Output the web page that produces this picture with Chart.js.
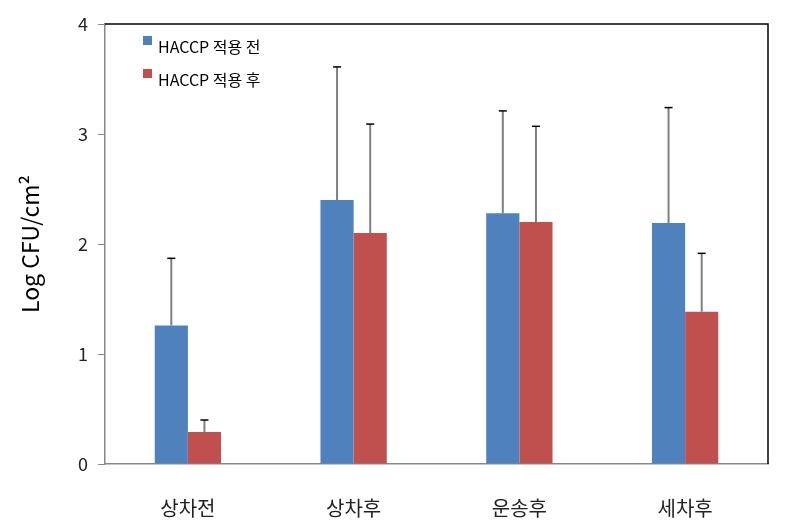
<!DOCTYPE html>
<html>
<head>
<meta charset="utf-8">
<script src="https://cdn.jsdelivr.net/npm/chart.js@4/dist/chart.umd.min.js"></script>
<style>
  html,body{margin:0;padding:0;background:#fff;}
  #wrap{width:804px;height:531px;position:relative;}
</style>
</head>
<body>
<div id="wrap"><canvas id="c" width="804" height="531"></canvas></div>
<script>
const categories=['상차전','상차후','운송후','세차후'];
const beforeVals=[1.26,2.40,2.28,2.19];
const afterVals=[0.29,2.10,2.20,1.385];
const beforeErr=[0.61,1.21,0.93,1.05];
const afterErr=[0.11,0.99,0.87,0.53];
const seriesNames=['HACCP 적용 전','HACCP 적용 후'];
const yTicks=[0,1,2,3,4];

const FONT='"Noto Sans CJK KR","Noto Sans",sans-serif';
const BLUE='#4F81BD', RED='#C0504D';

// upward-only error bars with a short black cap
const errorBars={
  id:'errorBars',
  afterDatasetsDraw(chart){
    const ctx=chart.ctx, y=chart.scales.y;
    const errs=[beforeErr,afterErr];
    chart.data.datasets.forEach((ds,i)=>{
      const meta=chart.getDatasetMeta(i);
      meta.data.forEach((bar,j)=>{
        const top=y.getPixelForValue(ds.data[j]+errs[i][j]);
        ctx.save();
        ctx.strokeStyle='#7f7f7f';ctx.lineWidth=2;
        ctx.beginPath();ctx.moveTo(bar.x,bar.y);ctx.lineTo(bar.x,top);ctx.stroke();
        ctx.strokeStyle='#000';ctx.lineWidth=1.5;
        ctx.beginPath();ctx.moveTo(bar.x-4,top);ctx.lineTo(bar.x+4,top);ctx.stroke();
        ctx.restore();
      });
    });
  }
};

// frame on top/right and the in-plot legend
const frameLegend={
  id:'frameLegend',
  afterDraw(chart){
    const {ctx,chartArea:a}=chart;
    ctx.save();
    ctx.strokeStyle='#000';ctx.lineWidth=1.5;
    ctx.beginPath();ctx.moveTo(a.left,a.top);ctx.lineTo(a.right,a.top);ctx.lineTo(a.right,a.bottom);ctx.stroke();
    const cols=[BLUE,RED];
    ctx.font='16px '+FONT;ctx.fillStyle='#000';ctx.textBaseline='middle';
    seriesNames.forEach((n,i)=>{
      const yy=a.top+16+i*33;
      ctx.fillStyle=cols[i];ctx.fillRect(a.left+38,yy-4,9,9);
      ctx.fillStyle='#000';ctx.fillText(n,a.left+53,yy+7);
    });
    ctx.restore();
  }
};

new Chart(document.getElementById('c'),{
  type:'bar',
  data:{
    labels:categories,
    datasets:[
      {label:seriesNames[0],data:beforeVals,backgroundColor:BLUE},
      {label:seriesNames[1],data:afterVals,backgroundColor:RED}
    ]
  },
  options:{
    responsive:false,animation:false,
    layout:{padding:{top:24,right:36,left:0,bottom:0}},
    plugins:{legend:{display:false},tooltip:{enabled:false}},
    datasets:{bar:{barPercentage:1,categoryPercentage:0.4}},
    scales:{
      x:{
        grid:{display:false},
        border:{color:'#888',width:1.5},
        ticks:{color:'#222',font:{family:FONT,size:20},padding:24},
        afterFit(s){s.height=67;}
      },
      y:{
        min:0,max:4,
        afterBuildTicks(s){s.ticks=yTicks.map(v=>({value:v}));},
        grid:{drawOnChartArea:false,color:'#888',tickLength:7},
        border:{color:'#888',width:1.5},
        ticks:{color:'#222',font:{family:FONT,size:18},padding:10},
        title:{display:true,text:'Log CFU/cm²',color:'#000',font:{family:FONT,size:23},padding:{top:16,bottom:0}},
        afterFit(s){s.width=105;}
      }
    }
  },
  plugins:[errorBars,frameLegend]
});
</script>
</body>
</html>
